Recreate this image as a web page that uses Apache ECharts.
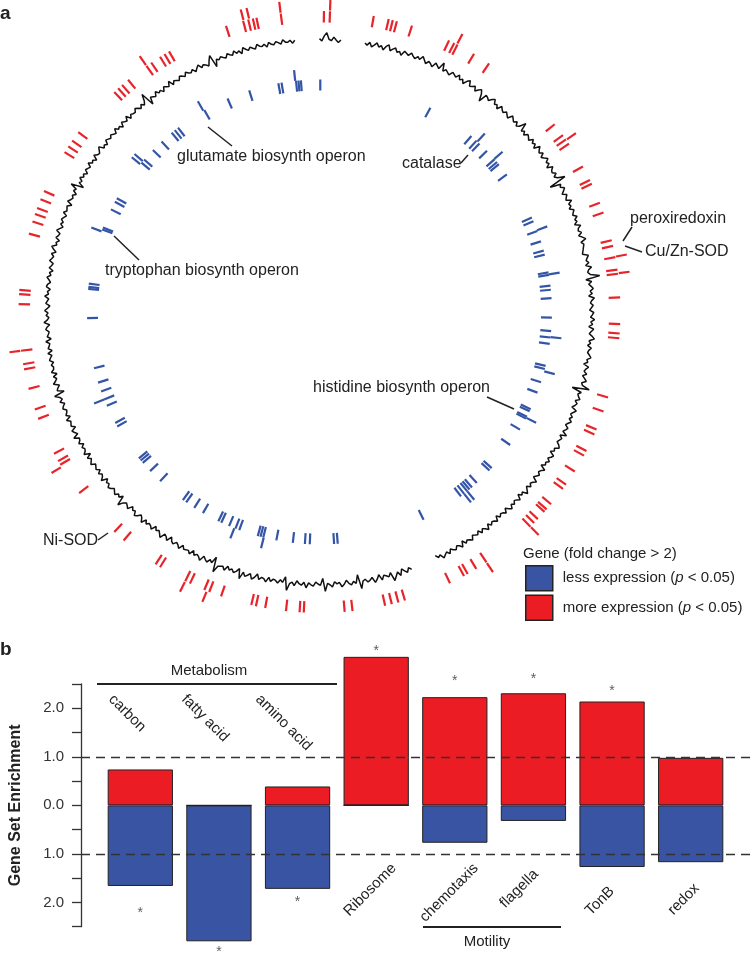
<!DOCTYPE html>
<html><head><meta charset="utf-8">
<script src="https://cdn.jsdelivr.net/npm/echarts@6/dist/echarts.min.js"></script>
<style>html,body{margin:0;padding:0;background:#fff}#c{width:750px;height:960px}</style>
</head><body><div id="c"></div>
<script>
// ================= Panel a data =================
// genome trace (signal values read around the circle), angle step in degrees
const traceStep = 0.5;
const traceSegAStart = 9.6;
const traceSegA = [
100.2,99.8,100.5,99.6,100.1,100.7,99.9,100.3,99.5,100.4,100.9,99.7,100.2,100.6,99.8,100.1,99.4,100.5,100.2,99.9,
100.6,100.1,99.7,100.4,99.9,100.8,100.2,99.6,100.3,100.0,99.5,100.6,100.2,99.8,101.4,99.7,100.3,100.1,99.6,100.5,
100.2,99.9,100.7,99.8,100.3,99.5,100.4,100.9,99.8,100.1,100.5,99.6,100.2,100.7,99.9,98.4,100.3,100.1,99.7,100.4,
100.8,99.9,100.2,99.5,100.6,100.1,99.8,100.4,100.0,99.6,100.7,100.3,99.9,100.5,99.7,100.2,101.6,99.8,100.3,99.6,
100.4,100.1,99.7,100.6,99.9,100.3,99.5,100.8,100.2,99.8,100.5,99.6,100.1,100.7,99.9,100.3,99.4,100.6,100.0,99.8,
100.5,99.7,100.3,101.8,97.9,100.2,99.8,100.6,100.1,99.5,100.4,100.0,99.7,100.8,99.9,100.2,99.6,100.5,100.1,99.8,
100.6,99.9,100.2,99.5,100.7,100.0,99.8,100.4,99.6,100.3,100.9,99.7,100.2,100.5,99.8,100.1,99.4,100.6,100.2,99.9,
100.4,99.6,100.8,100.1,99.8,100.3,102.3,99.2,100.4,99.7,100.2,100.6,99.9,100.3,99.5,100.7,100.1,99.8,100.4,100.0,
99.6,100.5,100.2,99.8,100.7,99.9,100.3,99.5,100.6,100.1,99.7,100.4,100.9,99.8,100.2,99.6,100.5,100.0,99.8,100.3,
100.7,99.9,100.2,99.4,100.6,100.1,99.8,100.5,99.7,100.3,100.8,99.9,100.2,101.9,98.2,100.4,99.8,100.1,100.6,99.7,
100.3,100.0,99.5,100.7,100.2,99.8,100.4,99.9,100.6,100.1,99.7,100.5,100.2,99.8,100.9,99.6,100.3,100.0,99.7,100.4,
100.8,99.9,100.2,99.5,100.6,100.3,99.8,100.5,99.9,100.2,99.4,100.7,100.1,99.8,100.4,100.0,99.6,100.8,100.2,99.9,
100.5,99.7,100.3,100.9,99.8,100.2,99.5,100.6,100.1,99.8,100.4,99.9,100.7,100.2,99.6,100.5,100.0,99.8,100.3,99.5,
100.6,100.1,99.9,100.4,99.7,100.8,100.2,99.8,100.5,99.6,100.3,100.0,99.7,100.6,100.2,99.9,100.4,99.5,100.7,100.1,
99.8,100.5,100.2,99.7,100.6,99.9,100.3,100.8,99.8,100.2,99.5
];
const traceSegBStart = 160.3;
const traceSegB = [
100.3,99.7,100.6,100.1,99.5,100.8,99.9,100.2,101.5,99.6,100.4,100.0,99.8,100.7,99.4,100.3,100.9,99.7,100.2,100.5,
99.8,100.1,101.7,98.6,100.4,99.9,100.6,100.2,99.5,100.3,100.8,99.8,100.1,99.6,100.7,100.2,99.9,101.6,98.8,100.3,
100.0,99.6,100.5,100.2,99.8,100.9,99.7,100.4,100.1,99.5,100.6,99.9,100.3,101.8,98.9,100.2,99.7,100.5,100.0,99.8,
100.4,99.6,100.7,100.1,99.9,100.5,99.4,100.3,100.8,99.7,100.2,100.6,99.8,101.4,99.3,100.1,100.5,99.9,100.3,99.6,
100.7,100.0,99.8,100.4,101.9,98.7,100.2,99.7,100.5,100.1,99.6,100.8,100.2,99.9,100.4,99.5,100.6,100.0,99.8,100.3,
99.6,100.7,100.1,99.8,100.5,100.2,99.4,100.6,100.0,99.7,100.9,100.3,99.8,100.2,99.5,100.6,100.1,99.9,100.4,99.7,
100.8,100.0,99.6,100.3,100.7,99.8,100.1,99.5,100.6,100.2,99.9,100.4,101.5,99.4,100.2,99.8,100.5,100.1,99.7,100.3,
100.6,99.9,100.2,99.5,100.8,100.1,99.8,100.4,99.6,100.3,100.0,99.7,100.6,100.2,99.8,100.5,99.4,100.7,100.1,99.9,
100.3,99.6,100.5,100.0,99.8,100.9,99.7,100.2,100.6,99.5,100.3,100.1,99.9,100.7,99.6,100.4,100.0,99.8,100.5,100.2,
99.7,100.6,99.9,100.3,101.3,99.0,100.4,100.1,99.6,100.8,100.2,99.8,100.4,99.5,100.6,100.0,99.9,100.3,99.7,100.5,
100.2,99.8,100.6,99.6,100.4,100.1,99.9,100.7,99.5,100.3,100.0,99.8,100.5,100.2,99.6,100.8,100.1,99.7,100.3,99.9,
100.6,100.0,99.5,100.4,100.1,99.8,100.7,99.9,100.2,99.6,100.5,100.3,99.7,100.1,100.6,99.8,100.2,99.5,100.4,100.0,
99.7,100.6,100.2,99.9,100.5,99.6,100.3,100.8,99.8,100.1,99.5,100.4,100.0,99.8,100.7,100.2,99.6,100.3,99.9,100.5,
100.1,99.7,100.6,100.0,99.8,100.4,99.5,100.7,100.2,99.9,100.3,99.6,100.5,100.1,101.6,98.9,100.2,99.8,100.6,99.9,
100.3,99.6,100.4,100.1,99.8,100.7,99.9,100.2,99.5,100.6,100.0,99.8,100.3,100.8,99.7,100.1,99.6,100.5,100.2,99.9,
100.4,100.0,99.7,100.6,99.9,100.2,99.5,100.5,100.1,99.8,100.7,99.6,100.3,100.0,99.9,100.6,100.2,99.7,100.4,99.8,
100.5,101.9,98.8,100.3,100.0,99.7,100.6,99.9,100.2,99.5,100.4,100.1,99.8,100.8,99.6,100.3,100.0,99.7,100.5,100.2,
99.8,100.6,100.1,99.9,100.4,99.6,100.2,100.7,99.8,100.3,100.0,99.5,100.6,101.5,98.7,100.2,99.9,100.4,100.0,99.7,
100.5,100.1,99.8,100.6,99.9,100.3,99.5,100.7,100.2,99.8,100.4,100.0,99.7,100.6,100.1,99.9,100.3,99.6,100.5,100.0,
99.8,100.4,100.1,99.7,100.6,100.0,99.9,100.3,99.6,100.2
];
const traceSegCStart = 0.0;
const traceSegC = [100.3,99.8,100.9,101.6,100.2,99.9,100.7,100.1,99.6,100.2];

// gene positions (degrees clockwise from top)
const redOuterAngles = [2.0,27.2,55.1,79.4,82.6,135.5,146.3,202,206.5,239,262.6,324.9,345.4,346.5,352.6];
const redInnerAngles = [0.85,2.0,10.4,13.3,14.1,14.9,17.9,25.5,26.6,27.3,30.9,34.3,51.4,54,55,56,61.1,64,64.8,68.7,70.7,
76.2,77.3,79.5,81.9,82.7,87.2,92.3,94.1,95.0,106.5,109.3,113,114,117.5,118.5,122,125,126,129.7,131,131.6,133.5,134.5,135.5,
146.3,148.6,150.5,151.3,154.3,163.5,164.8,166.1,167.4,173.7,175.2,183,183.8,186.4,190.4,192.2,193.1,199.1,201.5,202.5,
205.5,206.5,212,213,220.6,223,233,239.5,240.3,241.9,249.2,251.1,255.2,259,260,262.6,271.5,273.4,274.2,285.1,287.5,289,
290.2,292,293.7,302.1,303.4,304.7,306.7,317,318,319,320.5,324.9,326,328,329,330,341.9,345.3,346.3,347.2,347.9,352.6];
const blueOuterAngles = [42.8,48.8,69.4,80.7,96.2,104.8,117.1,140.5,141.5,193.9,201.5,247.9,290.3,309.5,310.5,330,354];
const blueInnerAngles = [0.2,28.5,40.8,42.5,43.5,46.1,48.9,49.8,50.5,53.7,66,67,69.6,72.3,74.7,75.7,80.2,80.8,83.5,84.5,86.6,
91.4,94.7,96.3,97.9,103.4,104.2,107.6,110.3,114.7,115.3,116.8,117.3,120.4,124.9,132.2,133,137.4,139,139.8,140.5,141.5,142.5,
153.4,175.5,176.4,182.4,183.6,186.6,190.7,194,194.7,195.4,200.2,201.2,202.9,205,205.8,210.1,212.6,215,216,223.3,226.8,
229.5,230.3,231,240.5,241.5,246.2,247.9,250,252.3,256,268.5,275.7,276.2,277,290.8,291.3,296.2,298.3,299.3,310,311,314.2,
317.2,320.5,321.5,322.5,330.3,336.7,342.4,349.8,350.6,354.2,354.8,355.4];

// ================= Panel b data =================
const categories = ['carbon','fatty acid','amino acid','Ribosome','chemotaxis','flagella','TonB','redox'];
const moreExpression = [0.74, 0, 0.39, 3.06, 2.23, 2.31, 2.14, 0.98];
const lessExpression = [-1.66, -2.80, -1.72, 0, -0.77, -0.32, -1.27, -1.17];
const significance = [-2.16, -2.97, -1.93, 3.24, 2.62, 2.66, 2.42, null];
const thresholds = [1, -1];

// ================= styling / layout =================
const RED = '#ec1c24', BLUE = '#3a54a4';
const TICK_RED = '#e8232a', TICK_BLUE = '#3455a6';
const FONT = '"Liberation Sans", Arial, Helvetica, sans-serif';
const INK = '#222';
const TRACKS = {redOuter:[111,115], redInner:[106.5,110.7], blueOuter:[85.5,89.5], blueInner:[81.5,85.5]};
const LESS = 'less expression (p < 0.05)', MORE = 'more expression (p < 0.05)';

function traceData(start, vals){ return vals.map((r,i)=>[r, start + i*traceStep]); }
function traceSeries(start, vals){
  return {type:'line', coordinateSystem:'polar', polarIndex:1, data: traceData(start, vals), symbol:'none',
    lineStyle:{color:'#111', width:1.5}, silent:true, z:3};
}
function tickSeries(name, outer, inner, trO, trI, color){
  const data = outer.map(a=>[a,1]).concat(inner.map(a=>[a,0]));
  return {type:'custom', name, coordinateSystem:'polar', polarIndex:0, data, itemStyle:{color}, silent:true, z:2,
    renderItem:(p, api)=>{
      const a = api.value(0); const tr = api.value(1) ? trO : trI;
      const p1 = api.coord([tr[0], a]), p2 = api.coord([tr[1], a]);
      return {type:'line', shape:{x1:p1[0],y1:p1[1],x2:p2[0],y2:p2[1]}, style:{stroke:color, lineWidth:2.2}};
    }};
}
function txt(x, y, text, o){
  o = o || {};
  return {type:'text', x, y, rotation:o.rot||0, silent:true, z:10,
    style:{text, fill:o.fill||INK, font:o.font||('16px '+FONT),
      align:o.align||'left', textAlign:o.align||'left', verticalAlign:'middle', textVerticalAlign:'middle'}};
}
function seg(x1,y1,x2,y2,w){
  return {type:'line', silent:true, z:10, shape:{x1,y1,x2,y2}, style:{stroke:INK, lineWidth:w||1.5}};
}

const chart = echarts.init(document.getElementById('c'), null, {renderer:'canvas'});
const Q = Math.PI/4;
const option = {
  animation:false,
  backgroundColor:'#fff',
  polar:[
    {center:[319.5,312], radius:314},            // gene tracks
    {center:[319.5,312], radius:[232,312]}       // signal trace track
  ],
  angleAxis:[
    {polarIndex:0, type:'value', min:0, max:360, startAngle:90, clockwise:true, show:false},
    {polarIndex:1, type:'value', min:0, max:360, startAngle:90, clockwise:true, show:false}
  ],
  radiusAxis:[
    {polarIndex:0, type:'value', min:0, max:115.5, show:false},
    {polarIndex:1, type:'value', min:91.3, max:108.7, show:false}
  ],
  grid:[
    {left:101, right:20, top:635.5, height:315.5},
    {left:79, right:0, top:684, height:242.7}
  ],
  xAxis:[
    {type:'category', gridIndex:0, data:categories, show:false},
    {type:'value', gridIndex:1, min:0, max:1, show:false}
  ],
  yAxis:[
    {type:'value', gridIndex:0, min:-3, max:3.5, show:false},
    {type:'value', gridIndex:1, min:-2.5, max:2.5, interval:0.5,
     axisLine:{show:true, lineStyle:{color:'#333', width:1.3}},
     axisTick:{show:true, length:9, lineStyle:{color:'#333', width:1.3}},
     splitLine:{show:false},
     axisLabel:{margin:17, color:'#333', fontSize:15, fontFamily:FONT,
       formatter:v=> (Math.abs(v%1) < 1e-9) ? Math.abs(v).toFixed(1) : ''},
     name:'Gene Set Enrichment', nameLocation:'middle', nameGap:57, nameRotate:90,
     nameTextStyle:{fontWeight:'bold', fontSize:16, color:INK, fontFamily:FONT}}
  ],
  title:{text:'Gene (fold change > 2)', left:523, top:546, padding:0,
    textStyle:{fontSize:15, fontWeight:'normal', color:INK, fontFamily:FONT}},
  legend:{orient:'vertical', left:525, top:565, padding:0, itemWidth:27, itemHeight:25, itemGap:3,
    icon:'rect', selectedMode:false,
    itemStyle:{borderColor:'#222', borderWidth:1.5},
    data:[{name:LESS, itemStyle:{color:BLUE}}, {name:MORE, itemStyle:{color:RED}}],
    formatter:n=>n.replace('(p', '({i|p}'),
    textStyle:{fontSize:15, color:INK, fontFamily:FONT, padding:[0,0,0,5],
      rich:{i:{fontStyle:'italic', fontSize:15, color:INK, fontFamily:FONT}}}},
  series:[
    tickSeries(LESS, blueOuterAngles, blueInnerAngles, TRACKS.blueOuter, TRACKS.blueInner, TICK_BLUE),
    tickSeries(MORE, redOuterAngles, redInnerAngles, TRACKS.redOuter, TRACKS.redInner, TICK_RED),
    traceSeries(traceSegAStart, traceSegA),
    traceSeries(traceSegBStart, traceSegB),
    traceSeries(traceSegCStart, traceSegC),
    {type:'bar', name:'more', xAxisIndex:0, yAxisIndex:0, data:moreExpression, barWidth:'83%', barGap:'-100%',
     itemStyle:{color:RED, borderColor:'#222', borderWidth:1}, silent:true},
    {type:'bar', name:'less', xAxisIndex:0, yAxisIndex:0, data:lessExpression, barWidth:'83%', barGap:'-100%',
     itemStyle:{color:BLUE, borderColor:'#222', borderWidth:1}, silent:true},
    {type:'scatter', xAxisIndex:0, yAxisIndex:0, silent:true, symbolSize:2, z:7,
     itemStyle:{color:'rgba(0,0,0,0)'},
     data:significance.map((v,i)=> v==null ? null : [i, v]),
     label:{show:true, position:'inside', formatter:'*', fontSize:14, color:'#333', offset:[0,3]}},
    {type:'line', xAxisIndex:1, yAxisIndex:1, data:[], z:6, silent:true,
     markLine:{symbol:'none', silent:true, label:{show:false}, animation:false,
       lineStyle:{type:[9,6], color:'#333', width:1.3},
       data:thresholds.map(t=>({yAxis:t}))}}
  ],
  graphic:[
    txt(0, 14, 'a', {font:'bold 19px '+FONT}),
    txt(0, 650, 'b', {font:'bold 19px '+FONT}),
    // panel a annotations
    txt(177, 157, 'glutamate biosynth operon'), seg(208,127,232,146),
    txt(105, 271, 'tryptophan biosynth operon'), seg(114,236,139,260),
    txt(402, 164, 'catalase'), seg(461,163,468,155),
    txt(630, 219, 'peroxiredoxin'), seg(632,227,623,241),
    txt(645, 252, 'Cu/Zn-SOD'), seg(642,252,625,246),
    txt(313, 388, 'histidine biosynth operon'), seg(487,397,514,409),
    txt(43, 541, 'Ni-SOD'), seg(98,540,108,533),
    // panel b group labels
    txt(209, 671, 'Metabolism', {font:'15px '+FONT, align:'center'}), seg(97,684,337,684,2),
    txt(487, 942, 'Motility', {font:'15px '+FONT, align:'center'}), seg(423,927,561,927,2),
    // category labels
    txt(111, 697, categories[0], {font:'15px '+FONT, rot:-Q}),
    txt(184, 697, categories[1], {font:'15px '+FONT, rot:-Q}),
    txt(258, 697, categories[2], {font:'15px '+FONT, rot:-Q}),
    txt(394, 866, categories[3], {font:'15px '+FONT, rot:Q, align:'right'}),
    txt(476, 866, categories[4], {font:'15px '+FONT, rot:Q, align:'right'}),
    txt(536, 872, categories[5], {font:'15px '+FONT, rot:Q, align:'right'}),
    txt(612, 889, categories[6], {font:'15px '+FONT, rot:Q, align:'right'}),
    txt(697, 886, categories[7], {font:'15px '+FONT, rot:Q, align:'right'})
  ]
};
chart.setOption(option);
</script>
</body></html>
